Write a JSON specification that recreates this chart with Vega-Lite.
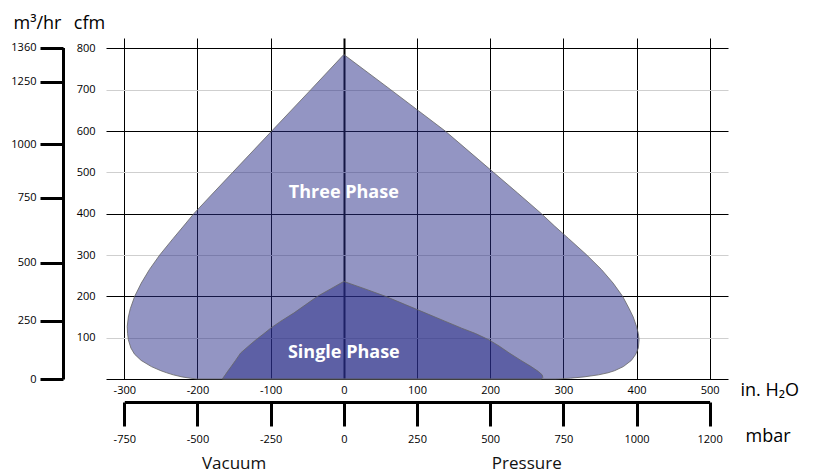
{
  "$schema": "https://vega.github.io/schema/vega-lite/v6.json",
  "autosize": {"type": "none"},
  "padding": {"left": 106, "top": 38, "right": 87, "bottom": 95},
  "width": 622,
  "height": 341,
  "config": {
    "view": {"stroke": null},
    "font": "Open Sans",
    "axis": {"labelFont": "Open Sans", "titleFont": "Open Sans", "labelColor": "#000000", "titleColor": "#000000", "titleFontWeight": "normal"}
  },
  "datasets": {
    "envelope": [
      {"phase": "Three Phase", "cfm": 0, "left": -200, "right": 290},
      {"phase": "Three Phase", "cfm": 2, "left": -210, "right": 310},
      {"phase": "Three Phase", "cfm": 5, "left": -221, "right": 328},
      {"phase": "Three Phase", "cfm": 10, "left": -233, "right": 348},
      {"phase": "Three Phase", "cfm": 15, "left": -242, "right": 361},
      {"phase": "Three Phase", "cfm": 20, "left": -250, "right": 370},
      {"phase": "Three Phase", "cfm": 30, "left": -263, "right": 382},
      {"phase": "Three Phase", "cfm": 45, "left": -277, "right": 393},
      {"phase": "Three Phase", "cfm": 60, "left": -286, "right": 399},
      {"phase": "Three Phase", "cfm": 75, "left": -291, "right": 402.5},
      {"phase": "Three Phase", "cfm": 95, "left": -294.5, "right": 403.5},
      {"phase": "Three Phase", "cfm": 110, "left": -295.5, "right": 402.5},
      {"phase": "Three Phase", "cfm": 127, "left": -296, "right": 400},
      {"phase": "Three Phase", "cfm": 150, "left": -294.5, "right": 395.5},
      {"phase": "Three Phase", "cfm": 170, "left": -291.8, "right": 390},
      {"phase": "Three Phase", "cfm": 200, "left": -285.8, "right": 381},
      {"phase": "Three Phase", "cfm": 232, "left": -276.8, "right": 368},
      {"phase": "Three Phase", "cfm": 265, "left": -265.6, "right": 352},
      {"phase": "Three Phase", "cfm": 300, "left": -251.6, "right": 332},
      {"phase": "Three Phase", "cfm": 340, "left": -233.2, "right": 307},
      {"phase": "Three Phase", "cfm": 370, "left": -219, "right": 288},
      {"phase": "Three Phase", "cfm": 400, "left": -205, "right": 270},
      {"phase": "Three Phase", "cfm": 450, "left": -178.5, "right": 237.5},
      {"phase": "Three Phase", "cfm": 500, "left": -151.8, "right": 204.5},
      {"phase": "Three Phase", "cfm": 600, "left": -98.5, "right": 138.5},
      {"phase": "Three Phase", "cfm": 700, "left": -45, "right": 64},
      {"phase": "Three Phase", "cfm": 785, "left": 0, "right": 0},
      {"phase": "Single Phase", "cfm": 0, "left": -166, "right": 270},
      {"phase": "Single Phase", "cfm": 4, "left": -164.5, "right": 272},
      {"phase": "Single Phase", "cfm": 10, "left": -162, "right": 271},
      {"phase": "Single Phase", "cfm": 18, "left": -159, "right": 266},
      {"phase": "Single Phase", "cfm": 30, "left": -154, "right": 256},
      {"phase": "Single Phase", "cfm": 45, "left": -148, "right": 242},
      {"phase": "Single Phase", "cfm": 63, "left": -141, "right": 226},
      {"phase": "Single Phase", "cfm": 80, "left": -130, "right": 212},
      {"phase": "Single Phase", "cfm": 95, "left": -120, "right": 198},
      {"phase": "Single Phase", "cfm": 110, "left": -109, "right": 180},
      {"phase": "Single Phase", "cfm": 123, "left": -100, "right": 161},
      {"phase": "Single Phase", "cfm": 140, "left": -86, "right": 138},
      {"phase": "Single Phase", "cfm": 160, "left": -68, "right": 111},
      {"phase": "Single Phase", "cfm": 180, "left": -52, "right": 84},
      {"phase": "Single Phase", "cfm": 200, "left": -36, "right": 57},
      {"phase": "Single Phase", "cfm": 218, "left": -18, "right": 29},
      {"phase": "Single Phase", "cfm": 236, "left": 0, "right": 0}
    ],
    "shapeLabels": [
      {"label": "Three Phase", "x": 0, "cfm": 450},
      {"label": "Single Phase", "x": 0, "cfm": 63}
    ],
    "sideLabels": [
      {"label": "Vacuum", "x": -150},
      {"label": "Pressure", "x": 250}
    ],
    "mbarTicks": [
      {"mbar": -750}, {"mbar": -500}, {"mbar": -250}, {"mbar": 0}, {"mbar": 250},
      {"mbar": 500}, {"mbar": 750}, {"mbar": 1000}, {"mbar": 1200}
    ],
    "m3Ticks": [
      {"m3hr": 0}, {"m3hr": 250}, {"m3hr": 500}, {"m3hr": 750}, {"m3hr": 1000}, {"m3hr": 1250}, {"m3hr": 1360}
    ]
  },
  "layer": [
    {
      "layer": [
        {
          "data": {"name": "envelope"},
          "transform": [{"filter": "datum.phase === 'Three Phase'"}],
          "mark": {"type": "area", "orient": "horizontal", "interpolate": "linear", "fill": "#272b87", "fillOpacity": 0.5, "stroke": "#666666", "strokeWidth": 0.8},
          "encoding": {
            "y": {
              "field": "cfm", "type": "quantitative",
              "scale": {"domain": [0, 825], "nice": false, "zero": false},
              "axis": {
                "values": [0, 100, 200, 300, 400, 500, 600, 700, 800],
                "labelExpr": "datum.value === 0 ? '' : '' + datum.value",
                "grid": true,
                "gridColor": {"condition": {"test": "datum.value % 200 === 0", "value": "#000000"}, "value": "#cfcfcf"},
                "gridWidth": 1,
                "ticks": false,
                "domain": false,
                "labelPadding": 11,
                "labelFontSize": 11,
                "title": "cfm",
                "titleAngle": 0,
                "titleX": -17,
                "titleY": -10,
                "titleAlign": "center",
                "titleBaseline": "alphabetic",
                "titleFontSize": 18
              }
            },
            "x": {
              "field": "left", "type": "quantitative",
              "scale": {"domain": [-325, 525], "nice": false, "zero": false},
              "axis": {
                "values": [-300, -250, -200, -150, -100, -50, 0, 50, 100, 150, 200, 250, 300, 350, 400, 450, 500],
                "labelExpr": "datum.value % 100 === 0 ? '' + datum.value : ''",
                "labelOverlap": false,
                "labelFlush": false,
                "grid": true,
                "gridColor": {"condition": {"test": "datum.value % 100 === 0", "value": "#000000"}, "value": "#cfcfcf"},
                "gridWidth": {"condition": {"test": "datum.value === 0", "value": 2}, "value": 1},
                "ticks": false,
                "domain": false,
                "labelPadding": 5,
                "labelFontSize": 11,
                "title": "in. H₂O",
                "titleX": 634,
                "titleY": 16,
                "titleAlign": "left",
                "titleBaseline": "alphabetic",
                "titleFontSize": 18
              }
            },
            "x2": {"field": "right"}
          }
        },
        {
          "data": {"name": "envelope"},
          "transform": [{"filter": "datum.phase === 'Single Phase'"}],
          "mark": {"type": "area", "orient": "horizontal", "interpolate": "linear", "fill": "#272b87", "fillOpacity": 0.5, "stroke": "#666666", "strokeWidth": 0.8},
          "encoding": {
            "y": {"field": "cfm", "type": "quantitative", "title": "cfm", "scale": {"domain": [0, 825], "nice": false, "zero": false}},
            "x": {"field": "left", "type": "quantitative", "title": "in. H₂O", "scale": {"domain": [-325, 525], "nice": false, "zero": false}},
            "x2": {"field": "right"}
          }
        },
        {
          "data": {"name": "shapeLabels"},
          "mark": {"type": "text", "font": "Open Sans", "fontWeight": "bold", "fontSize": 18, "color": "#ffffff", "align": "center", "baseline": "middle"},
          "encoding": {
            "x": {"field": "x", "type": "quantitative", "title": "in. H₂O", "scale": {"domain": [-325, 525], "nice": false, "zero": false}},
            "y": {"field": "cfm", "type": "quantitative", "title": "cfm", "scale": {"domain": [0, 825], "nice": false, "zero": false}},
            "text": {"field": "label"}
          }
        },
        {
          "data": {"name": "sideLabels"},
          "mark": {"type": "text", "font": "Open Sans", "fontSize": 17, "color": "#111111", "align": "center", "baseline": "middle", "dy": 85},
          "encoding": {
            "x": {"field": "x", "type": "quantitative", "title": "in. H₂O", "scale": {"domain": [-325, 525], "nice": false, "zero": false}},
            "y": {"datum": 0, "type": "quantitative", "title": "cfm", "scale": {"domain": [0, 825], "nice": false, "zero": false}},
            "text": {"field": "label"}
          }
        }
      ]
    },
    {
      "data": {"name": "mbarTicks"},
      "mark": {"type": "point", "opacity": 0},
      "encoding": {
        "x": {
          "field": "mbar", "type": "quantitative",
          "scale": {"domain": [-750, 1000, 1200], "range": [18.3, 530.5, 603.6], "nice": false, "zero": false},
          "axis": {
            "orient": "bottom",
            "offset": 23,
            "values": [-750, -500, -250, 0, 250, 500, 750, 1000, 1200],
            "labelExpr": "'' + datum.value",
            "labelOverlap": false,
            "labelFlush": false,
            "grid": false,
            "domain": true,
            "domainColor": "#000000",
            "domainWidth": 3,
            "ticks": true,
            "tickColor": "#000000",
            "tickWidth": 3,
            "tickSize": 24,
            "labelPadding": 7,
            "labelFontSize": 11,
            "title": "mbar",
            "titleX": 639,
            "titleY": 39,
            "titleAlign": "left",
            "titleBaseline": "alphabetic",
            "titleFontSize": 18
          }
        }
      }
    },
    {
      "data": {"name": "m3Ticks"},
      "mark": {"type": "point", "opacity": 0},
      "encoding": {
        "y": {
          "field": "m3hr", "type": "quantitative",
          "scale": {"domain": [0, 250, 500, 750, 1000, 1250, 1360], "range": [341, 282.7, 224.7, 159.7, 106, 43.7, 9.5], "nice": false, "zero": false},
          "axis": {
            "orient": "left",
            "offset": 43,
            "values": [0, 250, 500, 750, 1000, 1250, 1360],
            "labelExpr": "'' + datum.value",
            "grid": false,
            "domain": true,
            "domainColor": "#000000",
            "domainWidth": 3,
            "ticks": true,
            "tickColor": "#000000",
            "tickWidth": 3,
            "tickSize": 23,
            "labelPadding": 4,
            "labelFontSize": 11,
            "title": "m³/hr",
            "titleAngle": 0,
            "titleX": -26,
            "titleY": -10,
            "titleAlign": "center",
            "titleBaseline": "alphabetic",
            "titleFontSize": 18
          }
        }
      }
    }
  ],
  "resolve": {"scale": {"x": "independent", "y": "independent"}}
}
